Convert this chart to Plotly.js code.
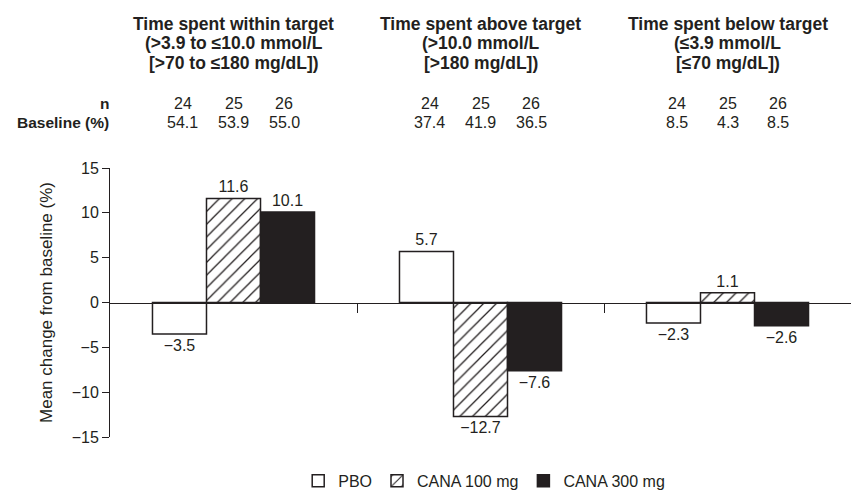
<!DOCTYPE html>
<html>
<head>
<meta charset="utf-8">
<script src="https://cdn.plot.ly/plotly-3.0.1.min.js"></script>
<style>html,body{margin:0;padding:0;background:#fff;}#chart{width:851px;height:491px;}</style>
</head>
<body>
<div id="chart"></div>
<script>
const groupTitleLines = [
  ["Time spent within target", "(>3.9 to ≤10.0 mmol/L", "[>70 to ≤180 mg/dL])"],
  ["Time spent above target", "(>10.0 mmol/L", "[>180 mg/dL])"],
  ["Time spent below target", "(≤3.9 mmol/L", "[≤70 mg/dL])"]
];
const groupIndex = [0, 1, 2];
const seriesNames = ["PBO", "CANA 100 mg", "CANA 300 mg"];
const pboValues = [-3.5, 5.7, -2.3];
const cana100Values = [11.6, -12.7, 1.1];
const cana300Values = [10.1, -7.6, -2.6];
const nPbo = [24, 24, 24];
const nCana100 = [25, 25, 25];
const nCana300 = [26, 26, 26];
const basePbo = ["54.1", "37.4", "8.5"];
const baseCana100 = ["53.9", "41.9", "4.3"];
const baseCana300 = ["55.0", "36.5", "8.5"];
const yTickVals = [-15, -10, -5, 0, 5, 10, 15];
const yTickText = ["\u221215", "\u221210", "\u22125", "0", "5", "10", "15"];

const FONT = "'Liberation Sans Narrow', 'Arial Narrow', 'Liberation Sans', Arial, sans-serif";
const INK = "#231f20";

function fmt(v){ return (v < 0 ? "\u2212" + Math.abs(v).toFixed(1) : v.toFixed(1)); }

const common = {
  type: "bar",
  x: groupIndex,
  textposition: "outside",
  cliponaxis: false,
  textfont: {family: FONT, size: 16, color: INK},
  hoverinfo: "skip"
};
const traces = [
  Object.assign({}, common, {
    name: seriesNames[0], y: pboValues, text: pboValues.map(fmt),
    marker: {color: "#ffffff", line: {color: INK, width: 1.5}}
  }),
  Object.assign({}, common, {
    name: seriesNames[1], y: cana100Values, text: cana100Values.map(fmt),
    marker: {color: "#ffffff", line: {color: INK, width: 1.5},
      pattern: {shape: "/", fgcolor: INK, bgcolor: "#ffffff", size: 9, solidity: 0.14}}
  }),
  Object.assign({}, common, {
    name: seriesNames[2], y: cana300Values, text: cana300Values.map(fmt),
    marker: {color: INK, line: {color: INK, width: 1.5}}
  })
];

const annotations = [];
const headFont = {family: FONT, size: 17.5, color: INK, weight: "bold"};
const numFont = {family: FONT, size: 16, color: INK};
const titleShifts = [144, 125, 105];
groupIndex.forEach((g, i) => {
  groupTitleLines[i].forEach((line, j) => {
    annotations.push({xref: "x", yref: "paper", x: g, y: 1.0, yshift: titleShifts[j], yanchor: "middle",
      text: "<b>" + line + "</b>", showarrow: false, font: headFont, align: "center"});
  });
  const off = [-0.205, 0, 0.205];
  const ns = [nPbo[i], nCana100[i], nCana300[i]];
  const bs = [basePbo[i], baseCana100[i], baseCana300[i]];
  off.forEach((o, k) => {
    annotations.push({xref: "x", yref: "paper", x: g + o, y: 1.0, yshift: 65, yanchor: "middle",
      text: String(ns[k]), showarrow: false, font: numFont});
    annotations.push({xref: "x", yref: "paper", x: g + o, y: 1.0, yshift: 46, yanchor: "middle",
      text: bs[k], showarrow: false, font: numFont});
  });
});
annotations.push({xref: "paper", yref: "paper", x: 0, xshift: 1, xanchor: "right", y: 1.0, yshift: 65, yanchor: "middle",
  text: "<b>n</b>", showarrow: false, font: {family: FONT, size: 15.5, color: INK}});
annotations.push({xref: "paper", yref: "paper", x: 0, xshift: 1, xanchor: "right", y: 1.0, yshift: 46, yanchor: "middle",
  text: "<b>Baseline (%)</b>", showarrow: false, font: {family: FONT, size: 15.5, color: INK}});

const layout = {
  width: 851, height: 491,
  margin: {l: 110, r: 0, t: 168, b: 54, autoexpand: false},
  paper_bgcolor: "#ffffff", plot_bgcolor: "#ffffff",
  font: {family: FONT, size: 16, color: INK},
  barmode: "group", bargap: 0.344, bargroupgap: 0,
  showlegend: true,
  legend: {orientation: "h", x: 0.505, xanchor: "center", y: -0.1, yanchor: "top",
    font: {family: FONT, size: 16, color: INK}, itemwidth: 30, tracegroupgap: 0},
  xaxis: {
    range: [-0.5, 2.5], anchor: "free", position: 0.5,
    showline: true, linecolor: INK, linewidth: 1.5,
    tickmode: "array", tickvals: [0.5, 1.5], ticktext: ["", ""],
    ticks: "outside", ticklen: 9, tickwidth: 1, tickcolor: INK,
    showgrid: false, zeroline: false, fixedrange: true
  },
  yaxis: {
    range: [-15, 15], tickmode: "array", tickvals: yTickVals, ticktext: yTickText,
    ticks: "outside", ticklen: 7, tickwidth: 1, tickcolor: INK,
    showline: true, linecolor: INK, linewidth: 1,
    showgrid: false, zeroline: false,
    tickfont: {family: FONT, size: 16, color: INK},
    title: {text: "Mean change from baseline (%)", font: {family: FONT, size: 17, color: INK}, standoff: 14}
  },
  annotations: annotations
};
Plotly.newPlot("chart", traces, layout, {displayModeBar: false, staticPlot: true});
</script>
</body>
</html>
